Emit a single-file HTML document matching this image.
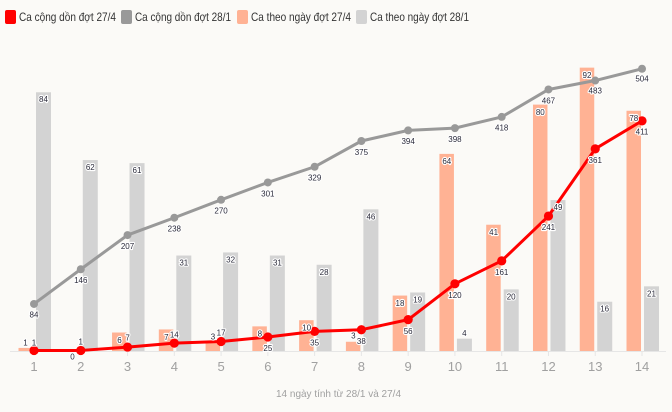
<!DOCTYPE html>
<html><head><meta charset="utf-8"><style>
html,body{margin:0;padding:0;background:#fbfaf7;}
svg{display:block;}
.lg{font-family:"Liberation Sans",sans-serif;font-size:12px;fill:#333;}
.tk{font-family:"Liberation Sans",sans-serif;font-size:13px;fill:#a0a0a0;text-anchor:middle;}
.lb{font-family:"Liberation Sans",sans-serif;font-size:8px;fill:#2a2a3a;text-anchor:middle;stroke:#fff;stroke-width:2.2px;paint-order:stroke;stroke-linejoin:round;}
</style></head><body>
<svg width="672" height="412" viewBox="0 0 672 412" xmlns="http://www.w3.org/2000/svg">
<rect width="672" height="412" fill="#fbfaf7"/>
<!-- legend -->
<rect x="5" y="10" width="11" height="14" rx="2" fill="#ff0000"/>
<text class="lg" x="19" y="21" textLength="97" lengthAdjust="spacingAndGlyphs">Ca cộng dồn đợt 27/4</text>
<rect x="121" y="10" width="11" height="14" rx="2" fill="#999999"/>
<text class="lg" x="135" y="21" textLength="96" lengthAdjust="spacingAndGlyphs">Ca cộng dồn đợt 28/1</text>
<rect x="237" y="10" width="11" height="14" rx="2" fill="#ffb294"/>
<text class="lg" x="251" y="21" textLength="100" lengthAdjust="spacingAndGlyphs">Ca theo ngày đợt 27/4</text>
<rect x="356" y="10" width="11" height="14" rx="2" fill="#d3d3d3"/>
<text class="lg" x="370" y="21" textLength="99" lengthAdjust="spacingAndGlyphs">Ca theo ngày đợt 28/1</text>

<!-- gray bars -->
<g fill="#d3d3d3">
<rect x="36" y="92.28" width="15" height="258.72"/>
<rect x="82.77" y="160.04" width="15" height="190.96"/>
<rect x="129.54" y="163.12" width="15" height="187.88"/>
<rect x="176.31" y="255.52" width="15" height="95.48"/>
<rect x="223.08" y="252.44" width="15" height="98.56"/>
<rect x="269.85" y="255.52" width="15" height="95.48"/>
<rect x="316.62" y="264.76" width="15" height="86.24"/>
<rect x="363.39" y="209.32" width="15" height="141.68"/>
<rect x="410.16" y="292.48" width="15" height="58.52"/>
<rect x="456.93" y="338.68" width="15" height="12.32"/>
<rect x="503.7" y="289.4" width="15" height="61.6"/>
<rect x="550.47" y="200.08" width="15" height="150.92"/>
<rect x="597.24" y="301.72" width="15" height="49.28"/>
<rect x="644.01" y="286.32" width="15" height="64.68"/>
</g>
<!-- orange bars -->
<g fill="#ffb294">
<rect x="18.5" y="347.92" width="14.5" height="3.08"/>
<rect x="112.04" y="332.52" width="14.5" height="18.48"/>
<rect x="158.81" y="329.44" width="14.5" height="21.56"/>
<rect x="205.58" y="341.76" width="14.5" height="9.24"/>
<rect x="252.35" y="326.36" width="14.5" height="24.64"/>
<rect x="299.12" y="320.2" width="14.5" height="30.8"/>
<rect x="345.89" y="341.76" width="14.5" height="9.24"/>
<rect x="392.66" y="295.56" width="14.5" height="55.44"/>
<rect x="439.43" y="153.88" width="14.5" height="197.12"/>
<rect x="486.2" y="224.72" width="14.5" height="126.28"/>
<rect x="532.97" y="104.6" width="14.5" height="246.4"/>
<rect x="579.74" y="67.64" width="14.5" height="283.36"/>
<rect x="626.51" y="110.76" width="14.5" height="240.24"/>
</g>

<!-- axis -->
<line x1="10" y1="351.5" x2="666" y2="351.5" stroke="#e6e6e6" stroke-width="1"/>
<g stroke="#e6e6e6" stroke-width="1">
<line x1="34" y1="351" x2="34" y2="356"/><line x1="80.77" y1="351" x2="80.77" y2="356"/>
<line x1="127.54" y1="351" x2="127.54" y2="356"/><line x1="174.31" y1="351" x2="174.31" y2="356"/>
<line x1="221.08" y1="351" x2="221.08" y2="356"/><line x1="267.85" y1="351" x2="267.85" y2="356"/>
<line x1="314.62" y1="351" x2="314.62" y2="356"/><line x1="361.39" y1="351" x2="361.39" y2="356"/>
<line x1="408.16" y1="351" x2="408.16" y2="356"/><line x1="454.93" y1="351" x2="454.93" y2="356"/>
<line x1="501.7" y1="351" x2="501.7" y2="356"/><line x1="548.47" y1="351" x2="548.47" y2="356"/>
<line x1="595.24" y1="351" x2="595.24" y2="356"/><line x1="642.01" y1="351" x2="642.01" y2="356"/>
</g>
<g class="tk">
<text x="34" y="371">1</text><text x="80.77" y="371">2</text><text x="127.54" y="371">3</text>
<text x="174.31" y="371">4</text><text x="221.08" y="371">5</text><text x="267.85" y="371">6</text>
<text x="314.62" y="371">7</text><text x="361.39" y="371">8</text><text x="408.16" y="371">9</text>
<text x="454.93" y="371">10</text><text x="501.7" y="371">11</text><text x="548.47" y="371">12</text>
<text x="595.24" y="371">13</text><text x="642.01" y="371">14</text>
</g>
<text x="276" y="397" font-family="Liberation Sans, sans-serif" font-size="10.5" fill="#a0a0a0" textLength="125" lengthAdjust="spacingAndGlyphs">14 ngày tính từ 28/1 và 27/4</text>

<!-- gray line -->
<polyline fill="none" stroke="#999999" stroke-width="3" stroke-linejoin="round"
points="34,303.96 80.77,269.24 127.54,235.08 174.31,217.72 221.08,199.8 267.85,182.44 314.62,166.76 361.39,141 408.16,130.36 454.93,128.12 501.7,116.92 548.47,89.48 595.24,80.52 642.01,68.76"/>
<g fill="#999999">
<circle cx="34" cy="303.96" r="4"/><circle cx="80.77" cy="269.24" r="4"/><circle cx="127.54" cy="235.08" r="4"/>
<circle cx="174.31" cy="217.72" r="4"/><circle cx="221.08" cy="199.8" r="4"/><circle cx="267.85" cy="182.44" r="4"/>
<circle cx="314.62" cy="166.76" r="4"/><circle cx="361.39" cy="141" r="4"/><circle cx="408.16" cy="130.36" r="4"/>
<circle cx="454.93" cy="128.12" r="4"/><circle cx="501.7" cy="116.92" r="4"/><circle cx="548.47" cy="89.48" r="4"/>
<circle cx="595.24" cy="80.52" r="4"/><circle cx="642.01" cy="68.76" r="4"/>
</g>
<!-- red line -->
<polyline fill="none" stroke="#ff0000" stroke-width="3" stroke-linejoin="round"
points="34,350.44 80.77,350.44 127.54,347.08 174.31,343.16 221.08,341.48 267.85,337 314.62,331.4 361.39,329.72 408.16,319.64 454.93,283.8 501.7,260.84 548.47,216.04 595.24,148.84 642.01,120.84"/>
<g fill="#ff0000">
<circle cx="34" cy="350.44" r="4.6"/><circle cx="80.77" cy="350.44" r="4.6"/><circle cx="127.54" cy="347.08" r="4.6"/>
<circle cx="174.31" cy="343.16" r="4.6"/><circle cx="221.08" cy="341.48" r="4.6"/><circle cx="267.85" cy="337" r="4.6"/>
<circle cx="314.62" cy="331.4" r="4.6"/><circle cx="361.39" cy="329.72" r="4.6"/><circle cx="408.16" cy="319.64" r="4.6"/>
<circle cx="454.93" cy="283.8" r="4.6"/><circle cx="501.7" cy="260.84" r="4.6"/><circle cx="548.47" cy="216.04" r="4.6"/>
<circle cx="595.24" cy="148.84" r="4.6"/><circle cx="642.01" cy="120.84" r="4.6"/>
</g>

<!-- labels -->
<g class="lb">
<!-- gray bar labels -->
<text x="43.5" y="102">84</text><text x="90.3" y="170">62</text><text x="137" y="173">61</text>
<text x="183.8" y="265.5">31</text><text x="230.6" y="262.5">32</text><text x="277.4" y="265.5">31</text>
<text x="324.1" y="274.8">28</text><text x="370.9" y="219.3">46</text><text x="417.7" y="302.5">19</text>
<text x="464.4" y="336">4</text><text x="511.2" y="299.4">20</text><text x="558" y="210">49</text>
<text x="604.7" y="311.7">16</text><text x="651.5" y="296.3">21</text>
<!-- orange bar labels -->
<text x="25.5" y="345.3">1</text><text x="72.5" y="359.5">0</text><text x="119.5" y="343">6</text>
<text x="166.3" y="340">7</text><text x="213" y="339.3">3</text><text x="259.8" y="336.5">8</text>
<text x="306.6" y="330.5">10</text><text x="353.4" y="338.5">3</text><text x="400" y="305.8">18</text>
<text x="446.8" y="164">64</text><text x="493.6" y="235">41</text><text x="540.3" y="114.8">80</text>
<text x="587" y="78">92</text><text x="633.8" y="121">78</text>
<!-- gray line labels -->
<text x="34" y="317.5">84</text><text x="80.77" y="283">146</text><text x="127.54" y="249">207</text>
<text x="174.31" y="231.5">238</text><text x="221.08" y="213.5">270</text><text x="267.85" y="196.3">301</text>
<text x="314.62" y="180.5">329</text><text x="361.39" y="154.8">375</text><text x="408.16" y="144">394</text>
<text x="454.93" y="142">398</text><text x="501.7" y="130.7">418</text><text x="548.47" y="103.3">467</text>
<text x="595.24" y="93.5">483</text><text x="642.01" y="81.5">504</text>
<!-- red line labels -->
<text x="34" y="345.3">1</text><text x="80.77" y="344.5">1</text><text x="127.54" y="340.5">7</text>
<text x="174.31" y="337.3">14</text><text x="221.08" y="335.5">17</text><text x="267.85" y="351">25</text>
<text x="314.62" y="345.5">35</text><text x="361.39" y="344">38</text><text x="408.16" y="333.8">56</text>
<text x="454.93" y="298">120</text><text x="501.7" y="275">161</text><text x="548.47" y="230">241</text>
<text x="595.24" y="162.8">361</text><text x="642.01" y="134.5">411</text>
</g>
</svg>
</body></html>
